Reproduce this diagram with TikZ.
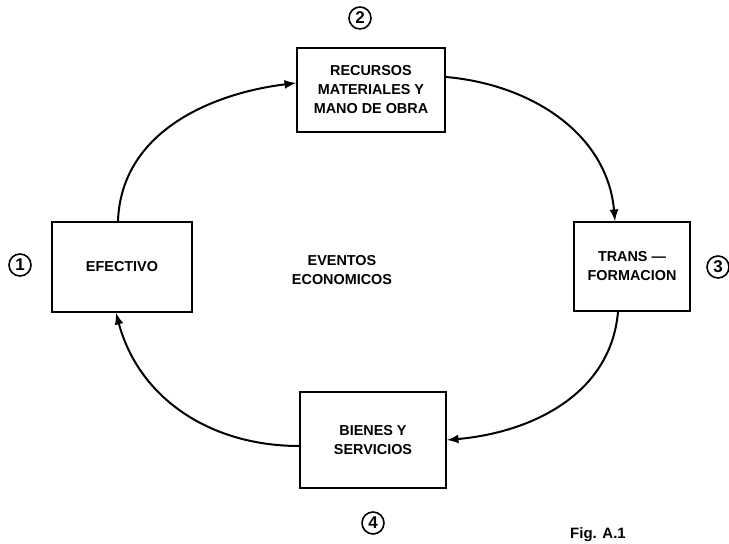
\documentclass[tikz,border=0pt]{standalone}
\usepackage{fontspec}
\setmainfont{Liberation Sans}
\usetikzlibrary{arrows}
\tikzstyle{cycle}=[x=0.5pt, y=0.5pt, font=\fontsize{7.2}{9.5}\selectfont\bfseries]
\tikzstyle{stage}=[draw, line width=0.9pt, align=center, inner sep=2pt]
\tikzstyle{num}=[circle, draw, line width=0.8pt, inner sep=0pt, minimum size=11pt, font=\fontsize{8.5}{9}\selectfont\bfseries]
\tikzstyle{lbl}=[align=center]
\tikzstyle{edge}=[line width=1pt, -latex]
\begin{document}
\begin{tikzpicture}[cycle]
	\useasboundingbox (0,0) rectangle (729,544);
	%%
	\draw (122,277) node[stage, minimum width=70pt, minimum height=45pt] (b1) {EFECTIVO};
	\draw (20,279) node[num] (c1) {1};
	%%
	\draw (371,454) node[stage, minimum width=74pt, minimum height=42pt] (b2) {RECURSOS\\MATERIALES Y\\MANO DE OBRA};
	\draw (360,526) node[num] (c2) {2};
	%%
	\draw (632,277.5) node[stage, minimum width=58pt, minimum height=44.5pt] (b3) {TRANS ---\\FORMACION};
	\draw (718,277) node[num] (c3) {3};
	%%
	\draw (373,104) node[stage, minimum width=73pt, minimum height=48pt] (b4) {BIENES Y\\SERVICIOS};
	\draw (373,21) node[num] (c4) {4};
	%%%%%%
	\draw (342,274) node[lbl] (ev) {EVENTOS\\ECONOMICOS};
	\draw (598,9) node[lbl, font=\fontsize{7.5}{9}\selectfont\bfseries] (fig) {Fig. A.1};
	%%%%%%
	\draw[edge] ([xshift=-2pt]b1.north) to[out=88, in=187] ([yshift=3.5pt]b2.west);
	\draw[edge] ([yshift=6.5pt]b2.east) to[out=-5, in=95] ([xshift=-8.5pt]b3.north);
	\draw[edge] ([xshift=-7pt]b3.south) to[out=-95, in=5] (b4.east);
	\draw[edge] ([yshift=-3pt]b4.west) to[out=180, in=-75] ([xshift=-3pt]b1.south);
\end{tikzpicture}
\end{document}
